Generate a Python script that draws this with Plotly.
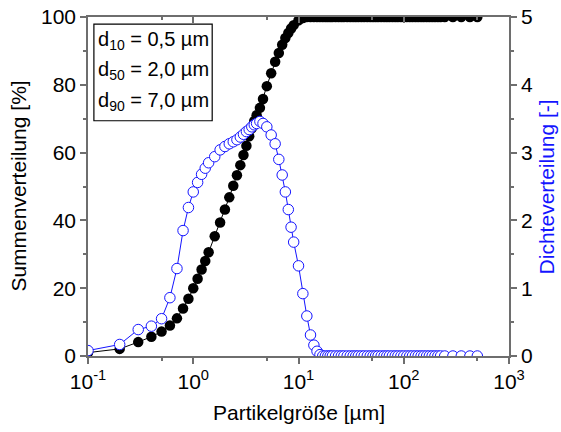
import plotly.graph_objects as go

# ---- data ----
size_um = [0.1, 0.2, 0.3, 0.4, 0.5, 0.6, 0.7, 0.8, 0.9, 1.0,
           1.1, 1.2, 1.3, 1.4, 1.6, 1.8, 2.0, 2.2, 2.4, 2.6,
           2.8, 3.0, 3.2, 3.4, 3.6, 3.8, 4.0, 4.3, 4.6, 5.0,
           5.5, 6.0, 6.5, 7.0, 7.5, 8.0, 8.5, 9.0, 10, 11,
           12, 13, 14, 15, 16, 17, 18, 19, 20, 21,
           22.5, 24, 25.5, 27, 29, 31, 33, 35, 37, 39.5,
           42, 45, 48, 51, 54, 57, 61, 65, 69, 73,
           78, 83, 88, 94, 100, 107, 114, 121, 129, 137,
           146, 155, 165, 175, 186, 198, 211, 224, 245, 293,
           352, 425, 500]

cumulative = [1.0, 2.1, 4.1, 5.7, 7.2, 9.0, 11.1, 14.0, 16.9, 20.0,
              22.8, 25.5, 28.0, 30.6, 35.3, 39.4, 43.2, 46.8, 50.2, 53.3,
              56.3, 59.3, 62.0, 64.8, 67.2, 69.3, 71.0, 73.2, 75.8, 79.6,
              83.4, 86.8, 89.4, 91.8, 93.8, 95.3, 96.6, 97.6, 99.0, 99.7,
              100, 100, 100, 100, 100, 100, 100, 100, 100, 100,
              100, 100, 100, 100, 100, 100, 100, 100, 100, 100,
              100, 100, 100, 100, 100, 100, 100, 100, 100, 100,
              100, 100, 100, 100, 100, 100, 100, 100, 100, 100,
              100, 100, 100, 100, 100, 100, 100, 100, 100, 100,
              100, 100, 100]

density = [0.08, 0.17, 0.39, 0.44, 0.55, 0.86, 1.29, 1.85, 2.19, 2.42,
           2.56, 2.68, 2.77, 2.85, 2.94, 3.04, 3.09, 3.13, 3.16, 3.19,
           3.23, 3.27, 3.31, 3.34, 3.38, 3.41, 3.43, 3.46, 3.43, 3.38,
           3.26, 3.13, 2.90, 2.67, 2.42, 2.16, 1.90, 1.68, 1.33, 0.92,
           0.59, 0.31, 0.16, 0.07, 0.02, 0, 0, 0, 0, 0,
           0, 0, 0, 0, 0, 0, 0, 0, 0, 0,
           0, 0, 0, 0, 0, 0, 0, 0, 0, 0,
           0, 0, 0, 0, 0, 0, 0, 0, 0, 0,
           0, 0, 0, 0, 0, 0, 0, 0, 0, 0,
           0, 0, 0]

x_tickvals = [0.1, 1, 10, 100, 1000]
x_ticktext = ["10<sup>-1</sup>", "10<sup>0</sup>", "10<sup>1</sup>", "10<sup>2</sup>", "10<sup>3</sup>"]
x_minor = [0.5, 5, 50, 500]
legend_lines = ["d<sub>10</sub> = 0,5 µm", "d<sub>50</sub> = 2,0 µm", "d<sub>90</sub> = 7,0 µm"]
x_title = "Partikelgröße [µm]"
y_title = "Summenverteilung [%]"
y2_title = "Dichteverteilung [-]"

FONT = "Arial, Liberation Sans, sans-serif"
AX = "#6e6e6e"
BLUE = "#1414ff"
TICK_SIZE = 21
TITLE_SIZE = 21

fig = go.Figure()
fig.add_trace(go.Scatter(
    x=size_um, y=cumulative, mode="lines+markers", yaxis="y",
    line=dict(color="black", width=1),
    marker=dict(symbol="circle", size=10.5, color="black", line=dict(width=0)),
    showlegend=False))
fig.add_trace(go.Scatter(
    x=size_um, y=density, mode="lines+markers", yaxis="y2",
    line=dict(color=BLUE, width=1),
    marker=dict(symbol="circle", size=10.5, color="white", line=dict(color=BLUE, width=1)),
    showlegend=False))
# empty trace to carry the top (inside-tick) axis
fig.add_trace(go.Scatter(x=[], y=[], xaxis="x2", yaxis="y", showlegend=False, hoverinfo="skip"))

fig.update_layout(
    template="none",
    width=561, height=432,
    margin=dict(l=88, r=52, t=17, b=76),
    paper_bgcolor="white", plot_bgcolor="white",
    font=dict(family=FONT, size=TICK_SIZE, color="black"),
    xaxis=dict(
        type="log", range=[-1, 3], showgrid=False, zeroline=False, automargin=False,
        showline=True, linecolor=AX, linewidth=1.5, mirror=True,
        ticks="outside", ticklen=6, tickwidth=1.5, tickcolor=AX,
        tickmode="array", tickvals=x_tickvals, ticktext=x_ticktext,
        tickfont=dict(size=TICK_SIZE), ticklabeloverflow="allow",
        minor=dict(tickmode="array", tickvals=x_minor, ticks="outside",
                   ticklen=3, tickwidth=1.5, tickcolor=AX),
    ),
    xaxis2=dict(
        type="log", range=[-1, 3], overlaying="x", side="top", anchor="y", automargin=False,
        showgrid=False, zeroline=False, showline=False,
        ticks="inside", ticklen=6, tickwidth=1.5, tickcolor=AX,
        tickmode="array", tickvals=x_tickvals, showticklabels=False,
        minor=dict(tickmode="array", tickvals=x_minor, ticks="inside",
                   ticklen=3, tickwidth=1.5, tickcolor=AX),
    ),
    yaxis=dict(
        range=[0, 100], showgrid=False, zeroline=False, automargin=False,
        showline=True, linecolor=AX, linewidth=1.5,
        ticks="outside", ticklen=6, tickwidth=1.5, tickcolor=AX,
        tickmode="linear", tick0=0, dtick=20, tickfont=dict(size=TICK_SIZE),
        ticklabeloverflow="allow",
        minor=dict(tickmode="linear", tick0=0, dtick=10, ticks="outside",
                   ticklen=3, tickwidth=1.5, tickcolor=AX),
    ),
    yaxis2=dict(
        range=[0, 5], overlaying="y", side="right", anchor="x", automargin=False,
        showgrid=False, zeroline=False,
        showline=True, linecolor=AX, linewidth=1.5,
        ticks="outside", ticklen=6, tickwidth=1.5, tickcolor=AX,
        tickmode="linear", tick0=0, dtick=1, tickfont=dict(size=TICK_SIZE),
        ticklabeloverflow="allow",
        minor=dict(tickmode="linear", tick0=0, dtick=0.5, ticks="outside",
                   ticklen=3, tickwidth=1.5, tickcolor=AX),
    ),
)

# axis titles as annotations (precise placement)
fig.add_annotation(xref="paper", yref="paper", x=0.5, y=-0.166, text=x_title,
                   showarrow=False, xanchor="center", yanchor="middle",
                   font=dict(size=TITLE_SIZE, family=FONT, color="black"))
fig.add_annotation(xref="paper", yref="paper", x=-0.166, y=0.5, text=y_title, textangle=-90,
                   showarrow=False, xanchor="center", yanchor="middle",
                   font=dict(size=TITLE_SIZE, family=FONT, color="black"))
fig.add_annotation(xref="paper", yref="paper", x=1.09, y=0.5, text=y2_title, textangle=-90,
                   showarrow=False, xanchor="center", yanchor="middle",
                   font=dict(size=TITLE_SIZE, family=FONT, color=BLUE))

# statistics box
fig.add_shape(type="rect", xref="paper", yref="paper",
              x0=0.014, x1=0.295, y0=0.694, y1=0.979,
              line=dict(color="black", width=1.2), fillcolor="white", layer="above")
for i, txt in enumerate(legend_lines):
    fig.add_annotation(xref="paper", yref="paper", x=0.019, y=[0.932, 0.842, 0.752][i],
                       xanchor="left", yanchor="middle", showarrow=False,
                       text=txt, font=dict(size=20, family=FONT, color="black"))

# remove the browser's default 8px body margin so the figure fills the window exactly
fig.write_html("out.html", config={"displayModeBar": False},
               post_script="document.body.style.margin='0';")
